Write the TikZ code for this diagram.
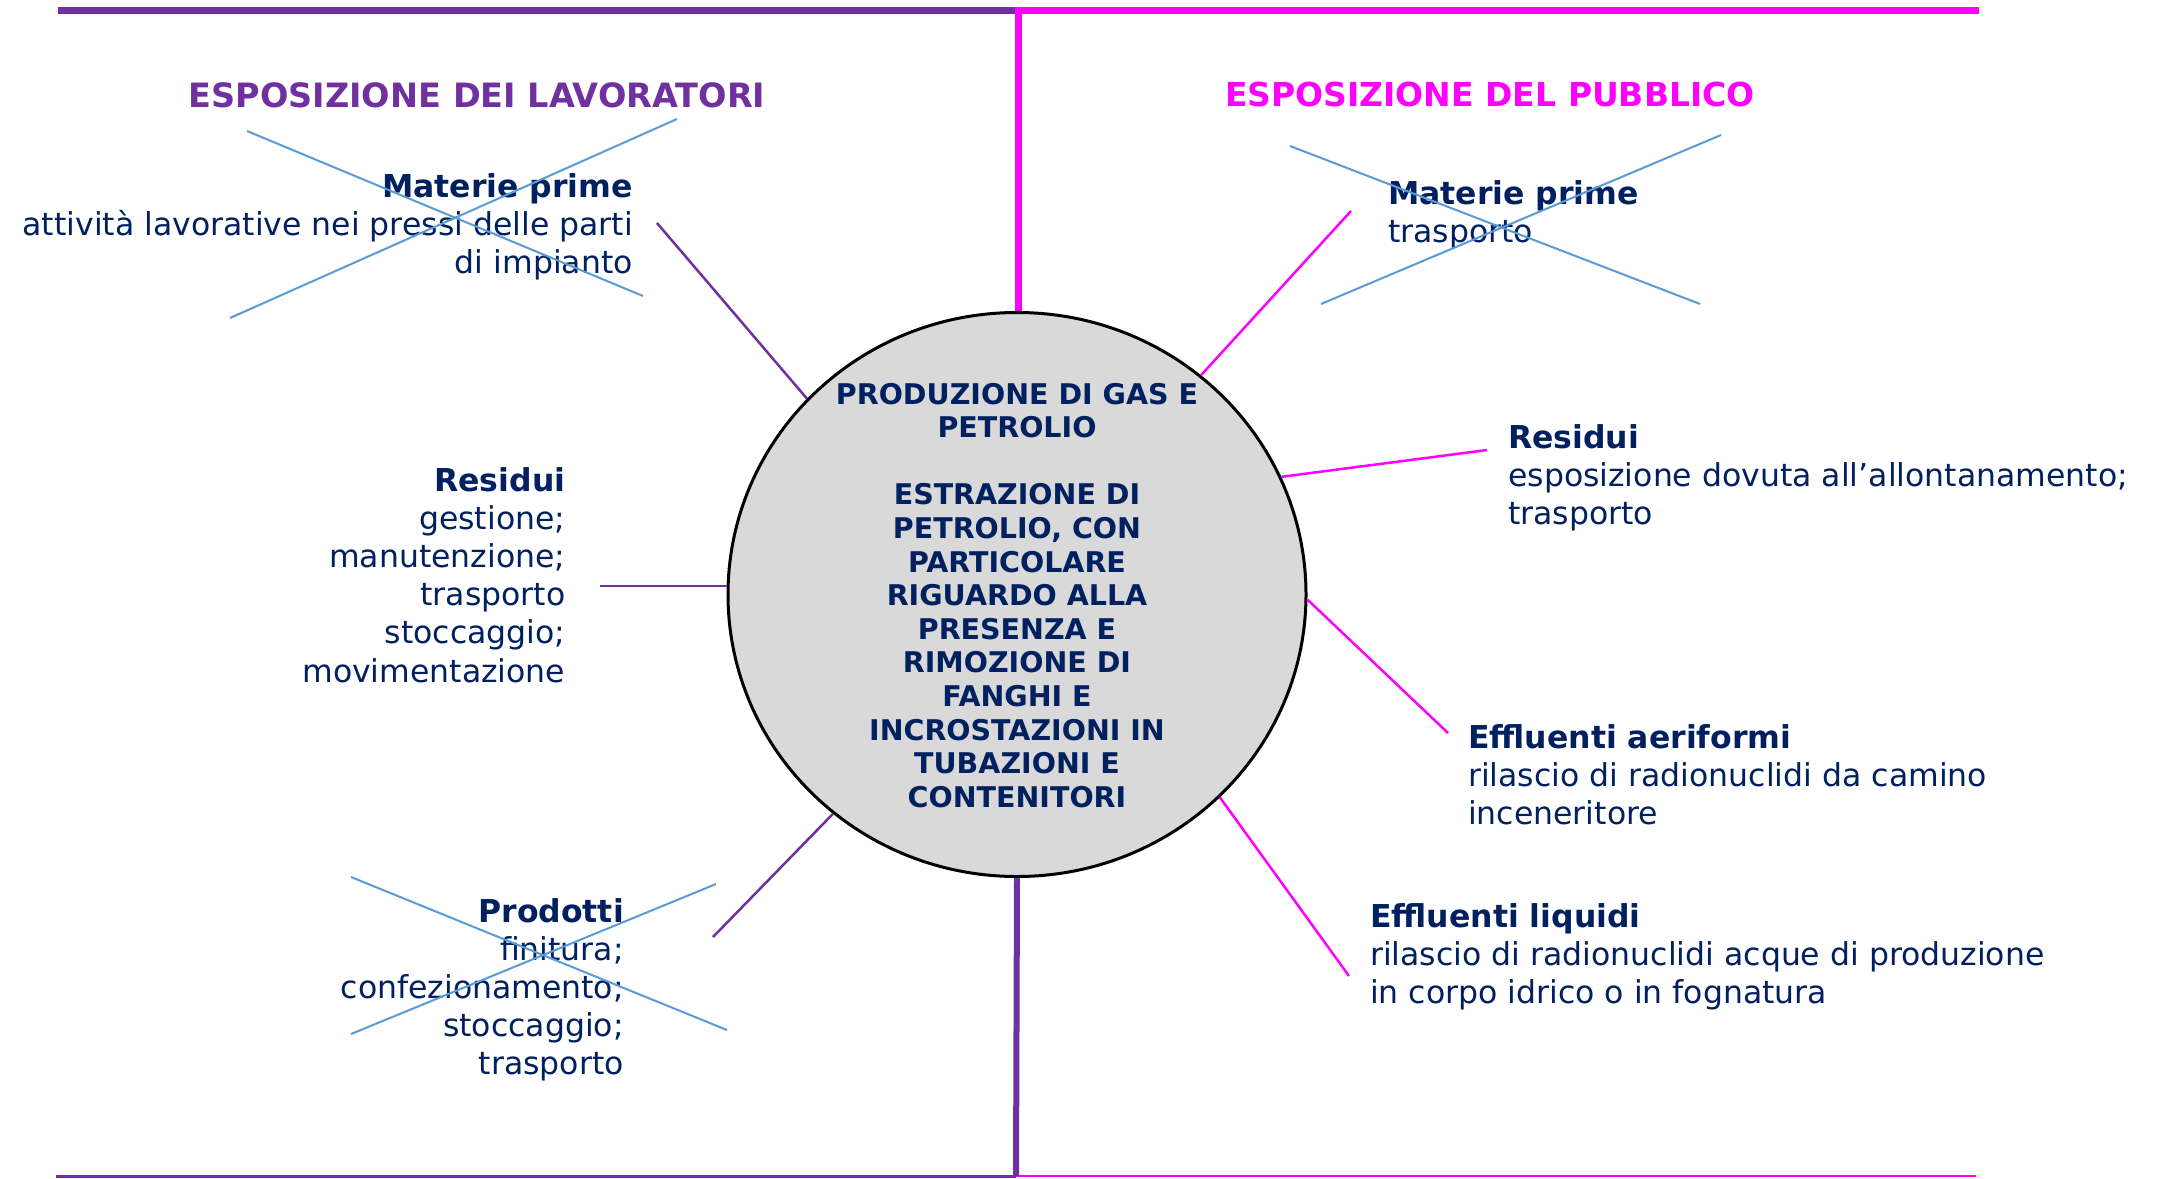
\documentclass[tikz,border=0pt]{standalone}
\usepackage{fontspec}
\setmainfont{DejaVu Sans}
\usetikzlibrary{shapes.geometric}
\definecolor{lavpurple}{HTML}{7030A0}
\definecolor{pubmag}{HTML}{FF00FF}
\definecolor{navy}{HTML}{002060}
\definecolor{crossblue}{HTML}{5B9BD5}
\definecolor{circgray}{HTML}{D9D9D9}
\tikzset{
  lbl/.style={inner sep=0pt, text=navy, font=\fontsize{31.5}{38.2}\selectfont},
  ttl/.style={inner sep=0pt, font=\fontsize{33.5}{40}\selectfont\bfseries, anchor=base},
  crossln/.style={draw=crossblue, line width=2pt},
  lavline/.style={draw=lavpurple, line width=2.5pt},
  publine/.style={draw=pubmag, line width=2.5pt},
}
\begin{document}
\begin{tikzpicture}[x=1pt,y=-1pt]
\useasboundingbox (0,0) rectangle (2159,1178);
\fill[white] (0,0) rectangle (2159,1178);

% central circle
\node[ellipse, draw=black, line width=3pt, fill=circgray, minimum width=578pt, minimum height=564pt, inner sep=0pt] (c) at (1017,594.5) {};
\node[inner sep=0pt, anchor=base, text=navy, font=\fontsize{28.5}{33.6}\selectfont\bfseries] (ctext) at (1017,404)
  {\begin{tabular}[t]{@{}c@{}}PRODUZIONE DI GAS E\\ PETROLIO\\ \\ ESTRAZIONE DI\\ PETROLIO, CON\\ PARTICOLARE\\ RIGUARDO ALLA\\ PRESENZA E\\ RIMOZIONE DI\\ FANGHI E\\ INCROSTAZIONI IN\\ TUBAZIONI E\\ CONTENITORI\end{tabular}};

% frame lines
\coordinate (tl) at (58,10);
\coordinate (tm) at (1018,10);
\coordinate (tr) at (1979,10);
\coordinate (bl) at (56,1176);
\coordinate (bm) at (1016,1176);
\coordinate (br) at (1976,1176);
\draw[draw=lavpurple, line width=7pt] (tl) -- (tm);
\draw[draw=pubmag, line width=7pt, line join=miter] (tr) -- (tm) -- (tm |- c.north);
\draw[draw=lavpurple, line width=3pt] (bl) -- (bm);
\draw[draw=pubmag, line width=2.5pt] (bm) -- (br);
\draw[draw=lavpurple, line width=6pt] (c.south) -- (bm);

% titles
\node[ttl, text=lavpurple] (tlav) at (477,107) {ESPOSIZIONE DEI LAVORATORI};
\node[ttl, text=pubmag, font=\fontsize{33}{40}\selectfont\bfseries] (tpub) at (1490,106) {ESPOSIZIONE DEL PUBBLICO};

% left labels
\node[lbl, anchor=base east] (lwMat) at (633,197)
  {\begin{tabular}[t]{@{}r@{}}\textbf{Materie prime}\\ attività lavorative nei pressi delle parti\\ di impianto\end{tabular}};
\node[lbl, anchor=base east] (lwRes) at (565.5,491)
  {\begin{tabular}[t]{@{}r@{}}\textbf{Residui}\\ gestione;\\ manutenzione;\\ trasporto\\ stoccaggio;\\ movimentazione\end{tabular}};
\node[lbl, anchor=base east] (lwProd) at (624,922)
  {\begin{tabular}[t]{@{}r@{}}\textbf{Prodotti}\\ finitura;\\ confezionamento;\\ stoccaggio;\\ trasporto\end{tabular}};

% right labels
\node[lbl, anchor=base west] (pbMat) at (1388,204)
  {\begin{tabular}[t]{@{}l@{}}\textbf{Materie prime}\\ trasporto\end{tabular}};
\node[lbl, anchor=base west] (pbRes) at (1508,448)
  {\begin{tabular}[t]{@{}l@{}}\textbf{Residui}\\ esposizione dovuta all’allontanamento;\\ trasporto\end{tabular}};
\node[lbl, anchor=base west] (pbAer) at (1468,748)
  {\begin{tabular}[t]{@{}l@{}}\textbf{Effluenti aeriformi}\\ rilascio di radionuclidi da camino\\ inceneritore\end{tabular}};
\node[lbl, anchor=base west] (pbLiq) at (1370,927)
  {\begin{tabular}[t]{@{}l@{}}\textbf{Effluenti liquidi}\\ rilascio di radionuclidi acque di produzione\\ in corpo idrico o in fognatura\end{tabular}};

% connector ends
\coordinate (eLwMat) at (657,223);
\coordinate (eLwRes) at (600,586);
\coordinate (eLwProd) at (713,937);
\coordinate (ePbMat) at (1351,211);
\coordinate (ePbRes) at (1487,450);
\coordinate (ePbAer) at (1448,733);
\coordinate (ePbLiq) at (1349,976);

\draw[lavline] (eLwMat) -- (c.137.7);
\draw[lavline] (eLwRes) -- (eLwRes -| c.west);
\draw[lavline] (eLwProd) -- (c.230.4);
\draw[publine] (ePbMat) -- (c.50.2);
\draw[publine] (ePbRes) -- (c.24.3);
\draw[publine] (ePbAer) -- (c.359.4);
\draw[publine] (ePbLiq) -- (c.315.1);

% crosses
\draw[crossln] (247,131) -- (643,296);
\draw[crossln] (230,318) -- (677,119);
\draw[crossln] (351,877) -- (727,1030);
\draw[crossln] (351,1034) -- (716,884);
\draw[crossln] (1290,146) -- (1700,304);
\draw[crossln] (1321,304) -- (1721,135);
\end{tikzpicture}
\end{document}
